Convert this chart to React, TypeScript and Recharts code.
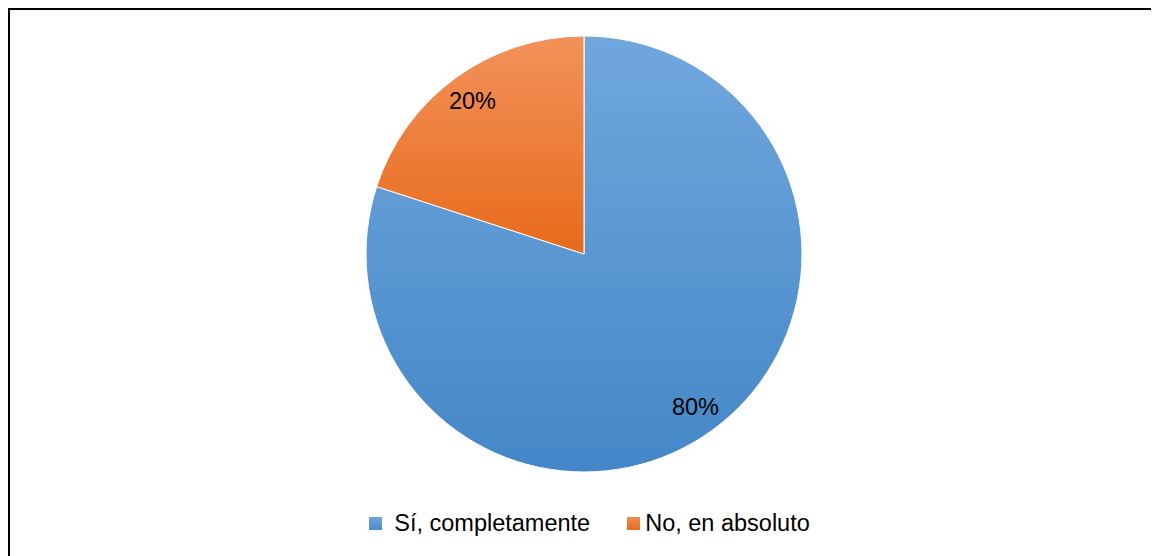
import React from 'react';
import { PieChart, Pie, Cell, Legend } from 'recharts';

const categories = ['Sí, completamente', 'No, en absoluto'];
const values = [80, 20];
const gradientIds = ['gradBlue', 'gradOrange'];

const chartData = categories.map((name, i) => ({ name, value: values[i] }));

const CX = 569;
const CY = 239;
const R = 218;
const RAD = Math.PI / 180;
const FONT = '"Liberation Sans", Arial, sans-serif';

const renderLabel = (props: any) => {
    const { cx, cy, midAngle, outerRadius, percent } = props;
    const r = outerRadius * 0.87;
    const x = cx + r * Math.cos(-midAngle * RAD);
    const y = cy + r * Math.sin(-midAngle * RAD);
    return (
        <text x={x} y={y} fill="#000" textAnchor="middle" dominantBaseline="central"
            style={{ fontFamily: FONT, fontSize: 23.5 }}>
            {`${Math.round(percent * 100)}%`}
        </text>
    );
};

const renderLegend = () => (
    <div style={{ display: 'flex', justifyContent: 'center', alignItems: 'center', fontFamily: FONT, fontSize: 23.5, lineHeight: '26px', color: '#000', paddingLeft: 10 }}>
        <span style={{ display: 'inline-block', width: 13, height: 13, background: 'linear-gradient(#6fa6dc, #4a8bcb)', marginRight: 12 }} />
        <span style={{ marginRight: 37 }}>{categories[0]}</span>
        <span style={{ display: 'inline-block', width: 13, height: 13, background: 'linear-gradient(#f08c4f, #e66d20)', marginRight: 5 }} />
        <span>{categories[1]}</span>
    </div>
);

const App: React.FC = () => {
    return (
        <div style={{ width: 1151, height: 548, borderTop: '2px solid #000', borderLeft: '2px solid #000', boxSizing: 'border-box', background: '#fff' }}>
            <PieChart width={1149} height={546}>
                <defs>
                    <linearGradient id={gradientIds[0]} gradientUnits="userSpaceOnUse" x1={0} y1={CY + 5 - R} x2={0} y2={CY + 5 + R}>
                        <stop offset="0%" stopColor="#70a7dd" />
                        <stop offset="100%" stopColor="#4487c8" />
                    </linearGradient>
                    <linearGradient id={gradientIds[1]} gradientUnits="userSpaceOnUse" x1={0} y1={CY + 5 - R} x2={0} y2={CY + 5 + R}>
                        <stop offset="0%" stopColor="#f2925a" />
                        <stop offset="50%" stopColor="#e86a1a" />
                        <stop offset="100%" stopColor="#d85f10" />
                    </linearGradient>
                </defs>
                <Pie
                    data={chartData}
                    dataKey="value"
                    nameKey="name"
                    cx={CX}
                    cy={CY}
                    outerRadius={R}
                    startAngle={90}
                    endAngle={-270}
                    stroke="#fff"
                    strokeWidth={1}
                    label={renderLabel}
                    labelLine={false}
                    isAnimationActive={false}
                >
                    {chartData.map((d, i) => (
                        <Cell key={d.name} fill={`url(#${gradientIds[i]})`} />
                    ))}
                </Pie>
                <Legend content={renderLegend} wrapperStyle={{ top: 500, left: 0, width: 1149 }} />
            </PieChart>
        </div>
    );
};

export default App;
